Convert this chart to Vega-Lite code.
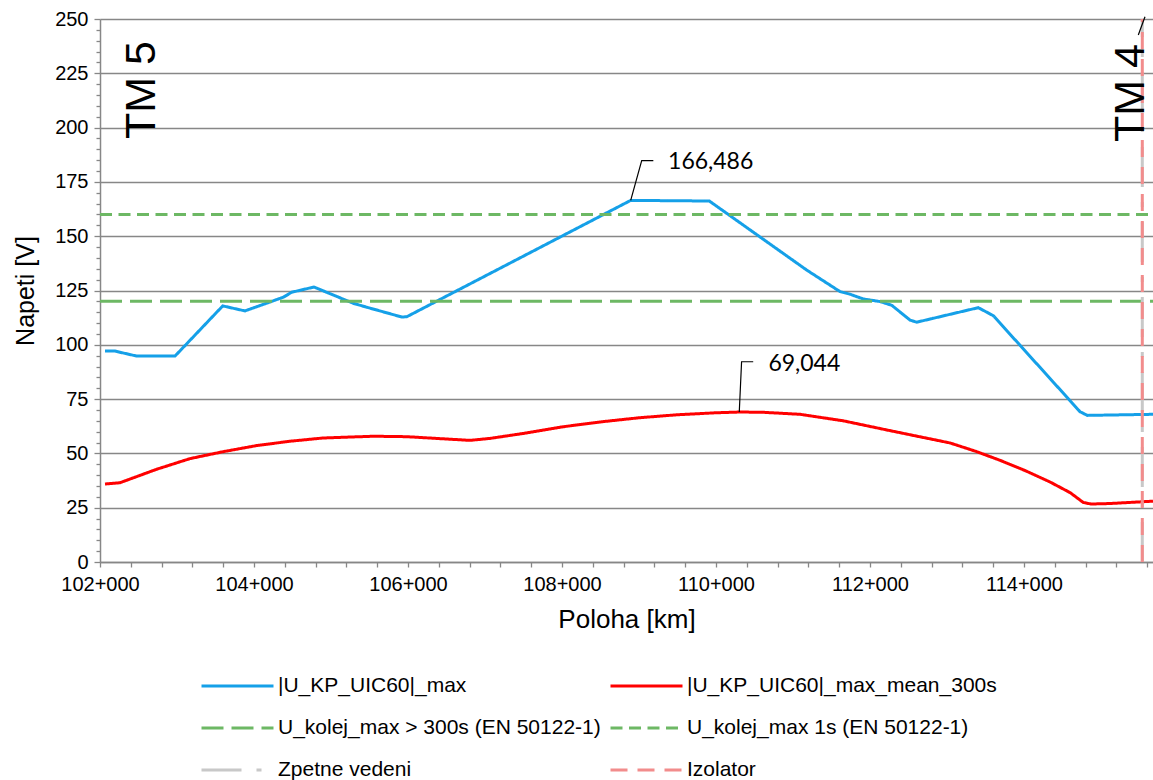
{
  "$schema": "https://vega.github.io/schema/vega-lite/v6.json",
  "width": 1053,
  "height": 543,
  "autosize": {"type": "none"},
  "padding": {"left": 100, "top": 19, "right": 0, "bottom": 218},
  "background": "white",
  "config": {"view": {"stroke": null}, "font": "Liberation Sans"},
  "datasets": {
    "series": [
      {"s": "|U_KP_UIC60|_max", "x": 102.065, "y": 97.1},
      {"s": "|U_KP_UIC60|_max", "x": 102.195, "y": 97.1},
      {"s": "|U_KP_UIC60|_max", "x": 102.477, "y": 94.8},
      {"s": "|U_KP_UIC60|_max", "x": 102.974, "y": 94.8},
      {"s": "|U_KP_UIC60|_max", "x": 103.594, "y": 117.9},
      {"s": "|U_KP_UIC60|_max", "x": 103.883, "y": 115.6},
      {"s": "|U_KP_UIC60|_max", "x": 104.381, "y": 121.9},
      {"s": "|U_KP_UIC60|_max", "x": 104.49, "y": 124.2},
      {"s": "|U_KP_UIC60|_max", "x": 104.779, "y": 126.6},
      {"s": "|U_KP_UIC60|_max", "x": 105.29, "y": 119.1},
      {"s": "|U_KP_UIC60|_max", "x": 105.464, "y": 117.3},
      {"s": "|U_KP_UIC60|_max", "x": 105.918, "y": 112.8},
      {"s": "|U_KP_UIC60|_max", "x": 105.983, "y": 112.9},
      {"s": "|U_KP_UIC60|_max", "x": 108.892, "y": 166.486},
      {"s": "|U_KP_UIC60|_max", "x": 109.913, "y": 166.2},
      {"s": "|U_KP_UIC60|_max", "x": 111.178, "y": 134.4},
      {"s": "|U_KP_UIC60|_max", "x": 111.61, "y": 124.5},
      {"s": "|U_KP_UIC60|_max", "x": 111.74, "y": 123.3},
      {"s": "|U_KP_UIC60|_max", "x": 111.913, "y": 121.1},
      {"s": "|U_KP_UIC60|_max", "x": 112.13, "y": 119.9},
      {"s": "|U_KP_UIC60|_max", "x": 112.282, "y": 118.2},
      {"s": "|U_KP_UIC60|_max", "x": 112.519, "y": 111.4},
      {"s": "|U_KP_UIC60|_max", "x": 112.606, "y": 110.4},
      {"s": "|U_KP_UIC60|_max", "x": 113.406, "y": 117.1},
      {"s": "|U_KP_UIC60|_max", "x": 113.601, "y": 113.4},
      {"s": "|U_KP_UIC60|_max", "x": 114.727, "y": 69.2},
      {"s": "|U_KP_UIC60|_max", "x": 114.822, "y": 67.5},
      {"s": "|U_KP_UIC60|_max", "x": 115.675, "y": 68.0},
      {"s": "|U_KP_UIC60|_max_mean_300s", "x": 102.065, "y": 35.9},
      {"s": "|U_KP_UIC60|_max_mean_300s", "x": 102.26, "y": 36.5},
      {"s": "|U_KP_UIC60|_max_mean_300s", "x": 102.736, "y": 42.7},
      {"s": "|U_KP_UIC60|_max_mean_300s", "x": 103.169, "y": 47.6},
      {"s": "|U_KP_UIC60|_max_mean_300s", "x": 103.601, "y": 50.8},
      {"s": "|U_KP_UIC60|_max_mean_300s", "x": 104.035, "y": 53.6},
      {"s": "|U_KP_UIC60|_max_mean_300s", "x": 104.468, "y": 55.6},
      {"s": "|U_KP_UIC60|_max_mean_300s", "x": 104.9, "y": 57.1},
      {"s": "|U_KP_UIC60|_max_mean_300s", "x": 105.549, "y": 57.9},
      {"s": "|U_KP_UIC60|_max_mean_300s", "x": 105.983, "y": 57.7},
      {"s": "|U_KP_UIC60|_max_mean_300s", "x": 106.416, "y": 56.8},
      {"s": "|U_KP_UIC60|_max_mean_300s", "x": 106.805, "y": 56.0},
      {"s": "|U_KP_UIC60|_max_mean_300s", "x": 107.065, "y": 56.9},
      {"s": "|U_KP_UIC60|_max_mean_300s", "x": 107.5, "y": 59.2},
      {"s": "|U_KP_UIC60|_max_mean_300s", "x": 108.0, "y": 62.2},
      {"s": "|U_KP_UIC60|_max_mean_300s", "x": 108.5, "y": 64.5},
      {"s": "|U_KP_UIC60|_max_mean_300s", "x": 109.0, "y": 66.4},
      {"s": "|U_KP_UIC60|_max_mean_300s", "x": 109.5, "y": 67.8},
      {"s": "|U_KP_UIC60|_max_mean_300s", "x": 110.0, "y": 68.7},
      {"s": "|U_KP_UIC60|_max_mean_300s", "x": 110.3, "y": 69.044},
      {"s": "|U_KP_UIC60|_max_mean_300s", "x": 110.6, "y": 68.95},
      {"s": "|U_KP_UIC60|_max_mean_300s", "x": 111.091, "y": 68.0},
      {"s": "|U_KP_UIC60|_max_mean_300s", "x": 111.653, "y": 65.0},
      {"s": "|U_KP_UIC60|_max_mean_300s", "x": 112.217, "y": 60.8},
      {"s": "|U_KP_UIC60|_max_mean_300s", "x": 112.6, "y": 58.0},
      {"s": "|U_KP_UIC60|_max_mean_300s", "x": 113.04, "y": 54.8},
      {"s": "|U_KP_UIC60|_max_mean_300s", "x": 113.37, "y": 51.0},
      {"s": "|U_KP_UIC60|_max_mean_300s", "x": 113.69, "y": 46.8},
      {"s": "|U_KP_UIC60|_max_mean_300s", "x": 114.02, "y": 42.0},
      {"s": "|U_KP_UIC60|_max_mean_300s", "x": 114.34, "y": 36.8},
      {"s": "|U_KP_UIC60|_max_mean_300s", "x": 114.6, "y": 31.9},
      {"s": "|U_KP_UIC60|_max_mean_300s", "x": 114.77, "y": 27.4},
      {"s": "|U_KP_UIC60|_max_mean_300s", "x": 114.87, "y": 26.7},
      {"s": "|U_KP_UIC60|_max_mean_300s", "x": 115.1, "y": 26.9},
      {"s": "|U_KP_UIC60|_max_mean_300s", "x": 115.675, "y": 28.0},
      {"s": "U_kolej_max > 300s (EN 50122-1)", "x": 102.0, "y": 120},
      {"s": "U_kolej_max > 300s (EN 50122-1)", "x": 115.675, "y": 120},
      {"s": "U_kolej_max 1s (EN 50122-1)", "x": 102.0, "y": 160},
      {"s": "U_kolej_max 1s (EN 50122-1)", "x": 115.675, "y": 160},
      {"s": "Zpetne vedeni", "x": 115.536, "y": 0},
      {"s": "Zpetne vedeni", "x": 115.536, "y": 250},
      {"s": "Izolator", "x": 115.536, "y": 0},
      {"s": "Izolator", "x": 115.536, "y": 250}
    ],
    "leaders": [
      {"g": "a", "x": 108.892, "y": 166.486},
      {"g": "a", "x": 109.035, "y": 184.8},
      {"g": "a", "x": 109.186, "y": 184.8},
      {"g": "b", "x": 110.302, "y": 69.044},
      {"g": "b", "x": 110.332, "y": 92.2},
      {"g": "b", "x": 110.483, "y": 92.2},
      {"g": "c", "x": 115.484, "y": 242.6},
      {"g": "c", "x": 115.571, "y": 251.0}
    ],
    "labels": [
      {"t": "166,486", "x": 109.377, "y": 184.3},
      {"t": "69,044", "x": 110.68, "y": 91.2}
    ],
    "tm": [
      {"t": "TM 5", "x": 102.714, "y": 217.3},
      {"t": "TM 4", "x": 115.555, "y": 215.9}
    ]
  },
  "encoding": {
    "x": {
      "field": "x", "type": "quantitative",
      "scale": {"domain": [102, 115.675], "nice": false, "zero": false},
      "axis": {
        "values": [102, 102.4, 102.8, 103.2, 103.6, 104, 104.4, 104.8, 105.2, 105.6, 106, 106.4, 106.8, 107.2, 107.6, 108, 108.4, 108.8, 109.2, 109.6, 110, 110.4, 110.8, 111.2, 111.6, 112, 112.4, 112.8, 113.2, 113.6, 114, 114.4, 114.8, 115.2, 115.6],
        "labelExpr": "(abs(datum.value - round(datum.value)) < 0.001 && round(datum.value) % 2 === 0) ? round(datum.value) + '+000' : ''",
        "grid": false,
        "tickSize": 5,
        "tickColor": "#878787",
        "tickWidth": 1.3,
        "domainColor": "#878787",
        "domainWidth": 1.5,
        "labelFont": "Liberation Sans",
        "labelFontSize": 20,
        "labelColor": "black",
        "labelPadding": 7,
        "labelOverlap": false,
        "labelBound": false,
        "labelFlush": false,
        "title": "Poloha [km]",
        "titleFont": "Liberation Sans",
        "titleFontSize": 26,
        "titleFontWeight": "normal",
        "titleColor": "black",
        "titlePadding": 12
      }
    },
    "y": {
      "field": "y", "type": "quantitative",
      "scale": {"domain": [0, 250], "nice": false},
      "axis": {
        "values": [0, 5, 10, 15, 20, 25, 30, 35, 40, 45, 50, 55, 60, 65, 70, 75, 80, 85, 90, 95, 100, 105, 110, 115, 120, 125, 130, 135, 140, 145, 150, 155, 160, 165, 170, 175, 180, 185, 190, 195, 200, 205, 210, 215, 220, 225, 230, 235, 240, 245, 250],
        "labelExpr": "datum.value % 25 === 0 ? datum.label : ''",
        "grid": true,
        "gridColor": "#878787",
        "gridWidth": 1.3,
        "gridOpacity": {"condition": {"test": "datum.value % 25 === 0", "value": 1}, "value": 0},
        "tickSize": {"condition": {"test": "datum.value % 25 === 0", "value": 6}, "value": 4},
        "tickColor": "#878787",
        "tickWidth": 1.3,
        "domainColor": "#878787",
        "domainWidth": 1.5,
        "labelFont": "Liberation Sans",
        "labelFontSize": 20,
        "labelColor": "black",
        "labelPadding": 6,
        "labelOverlap": false,
        "labelBound": false,
        "labelFlush": false,
        "title": "Napeti [V]",
        "titleFont": "Liberation Sans",
        "titleFontSize": 25,
        "titleFontWeight": "normal",
        "titleColor": "black",
        "titlePadding": 16
      }
    }
  },
  "layer": [
    {
      "data": {"name": "series"},
      "mark": {"type": "line", "clip": false},
      "encoding": {
        "color": {
          "field": "s", "type": "nominal",
          "scale": {
            "domain": ["|U_KP_UIC60|_max", "U_kolej_max > 300s (EN 50122-1)", "Zpetne vedeni", "|U_KP_UIC60|_max_mean_300s", "U_kolej_max 1s (EN 50122-1)", "Izolator"],
            "range": ["#15A0E8", "#6DB864", "#C8C8C8", "#FF0000", "#6DB864", "#F28C8C"]
          },
          "legend": {
            "title": null, "orient": "none", "legendX": 100, "legendY": 657, "columns": 2,
            "symbolType": "stroke", "symbolSize": 5184, "clipHeight": 20,
            "rowPadding": 21, "columnPadding": 8, "labelOffset": 3,
            "labelFont": "Liberation Sans", "labelFontSize": 21, "labelColor": "black",
            "labelLimit": 0, "padding": 0
          }
        },
        "strokeDash": {
          "field": "s", "type": "nominal",
          "scale": {
            "domain": ["|U_KP_UIC60|_max", "U_kolej_max > 300s (EN 50122-1)", "Zpetne vedeni", "|U_KP_UIC60|_max_mean_300s", "U_kolej_max 1s (EN 50122-1)", "Izolator"],
            "range": [[1, 0], [22, 8], [40, 15, 5, 15], [1, 0], [12, 6.5], [17, 10]]
          },
          "legend": {
            "title": null, "orient": "none", "legendX": 100, "legendY": 657, "columns": 2,
            "symbolType": "stroke", "symbolSize": 5184, "clipHeight": 20,
            "rowPadding": 21, "columnPadding": 8, "labelOffset": 3,
            "labelFont": "Liberation Sans", "labelFontSize": 21, "labelColor": "black",
            "labelLimit": 0, "padding": 0
          }
        },
        "strokeWidth": {
          "field": "s", "type": "nominal",
          "scale": {
            "domain": ["|U_KP_UIC60|_max", "U_kolej_max > 300s (EN 50122-1)", "Zpetne vedeni", "|U_KP_UIC60|_max_mean_300s", "U_kolej_max 1s (EN 50122-1)", "Izolator"],
            "range": [3, 3, 6, 3, 3, 2.5]
          },
          "legend": {
            "title": null, "orient": "none", "legendX": 100, "legendY": 657, "columns": 2,
            "symbolType": "stroke", "symbolSize": 5184, "clipHeight": 20,
            "rowPadding": 21, "columnPadding": 8, "labelOffset": 3,
            "labelFont": "Liberation Sans", "labelFontSize": 21, "labelColor": "black",
            "labelLimit": 0, "padding": 0
          }
        }
      }
    },
    {
      "data": {"name": "leaders"},
      "mark": {"type": "line", "color": "black", "strokeWidth": 1.2, "clip": false},
      "encoding": {
        "detail": {"field": "g", "type": "nominal"}
      }
    },
    {
      "data": {"name": "labels"},
      "mark": {"type": "text", "font": "Lato", "fontSize": 23, "align": "left", "baseline": "middle", "color": "black"},
      "encoding": {
        "text": {"field": "t", "type": "nominal"}
      }
    },
    {
      "data": {"name": "tm"},
      "mark": {"type": "text", "font": "Liberation Sans", "fontSize": 43, "angle": 270, "align": "center", "baseline": "alphabetic", "color": "black"},
      "encoding": {
        "text": {"field": "t", "type": "nominal"}
      }
    }
  ]
}
